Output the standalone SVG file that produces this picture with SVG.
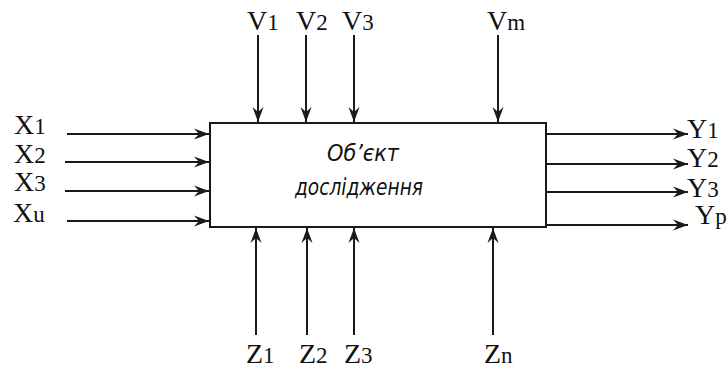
<svg xmlns="http://www.w3.org/2000/svg" width="728" height="369" viewBox="0 0 728 369">
<style>
.ln{stroke:#1a1a1a;stroke-width:2;fill:none;marker-end:url(#ah)}
.lb{font-family:"Liberation Serif",serif;font-size:28px;fill:#111}
.sb{font-size:23px}
.obj{font-family:"DejaVu Sans Condensed","DejaVu Sans",sans-serif;font-style:italic;font-size:23px;fill:#111;text-anchor:middle}
</style>
<defs>
<marker id="ah" markerWidth="16" markerHeight="12" refX="15" refY="6" orient="auto" markerUnits="userSpaceOnUse">
<path d="M0,0.5 L15,6 L0,11.5 L5,6 Z" fill="#1a1a1a"/>
</marker>
</defs>
<rect width="728" height="369" fill="#fff"/>
<g id="object">
<rect x="210" y="123" width="336" height="104" fill="#fff" stroke="#1a1a1a" stroke-width="2"/>
<text class="obj" x="363" y="161" textLength="72" lengthAdjust="spacingAndGlyphs">Об’єкт</text>
<text class="obj" x="359" y="195" textLength="128" lengthAdjust="spacingAndGlyphs">дослідження</text>
</g>
<g id="connectors">
<line class="ln" x1="67" y1="134" x2="209" y2="134"/>
<line class="ln" x1="65" y1="162" x2="209" y2="162"/>
<line class="ln" x1="65" y1="191" x2="209" y2="191"/>
<line class="ln" x1="67" y1="221" x2="209" y2="221"/>
<line class="ln" x1="546" y1="134" x2="688" y2="134"/>
<line class="ln" x1="546" y1="164" x2="688" y2="164"/>
<line class="ln" x1="546" y1="192" x2="688" y2="192"/>
<line class="ln" x1="546" y1="225" x2="688" y2="225"/>
<line class="ln" x1="258" y1="35" x2="258" y2="122"/>
<line class="ln" x1="306" y1="35" x2="306" y2="122"/>
<line class="ln" x1="354" y1="35" x2="354" y2="122"/>
<line class="ln" x1="498" y1="35" x2="498" y2="122"/>
<line class="ln" x1="256" y1="335" x2="256" y2="228"/>
<line class="ln" x1="307" y1="335" x2="307" y2="228"/>
<line class="ln" x1="354" y1="335" x2="354" y2="228"/>
<line class="ln" x1="493" y1="335" x2="493" y2="228"/>
</g>
<g id="inputs-x">
<text class="lb" x="14" y="134">X<tspan class="sb">1</tspan></text>
<text class="lb" x="14" y="163">X<tspan class="sb">2</tspan></text>
<text class="lb" x="14" y="191">X<tspan class="sb">3</tspan></text>
<text class="lb" x="13" y="222">X<tspan class="sb">u</tspan></text>
</g>
<g id="inputs-v">
<text class="lb" x="247" y="30">V<tspan class="sb">1</tspan></text>
<text class="lb" x="296" y="30">V<tspan class="sb">2</tspan></text>
<text class="lb" x="342" y="30">V<tspan class="sb">3</tspan></text>
<text class="lb" x="487" y="30">V<tspan class="sb">m</tspan></text>
</g>
<g id="inputs-z">
<text class="lb" x="246" y="363">Z<tspan class="sb">1</tspan></text>
<text class="lb" x="299" y="363">Z<tspan class="sb">2</tspan></text>
<text class="lb" x="344" y="363">Z<tspan class="sb">3</tspan></text>
<text class="lb" x="484" y="363">Z<tspan class="sb">n</tspan></text>
</g>
<g id="outputs-y">
<text class="lb" x="687" y="138">Y<tspan class="sb">1</tspan></text>
<text class="lb" x="687" y="167">Y<tspan class="sb">2</tspan></text>
<text class="lb" x="687" y="197">Y<tspan class="sb">3</tspan></text>
<text class="lb" x="695" y="224">Y<tspan class="sb">p</tspan></text>
</g>
</svg>
